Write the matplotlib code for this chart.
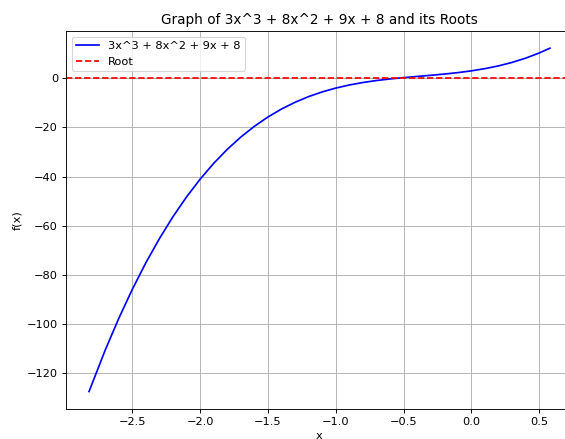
import matplotlib
matplotlib.use("Agg")
import matplotlib.pyplot as plt

x_vals = [-2.82, -2.7, -2.6, -2.5, -2.4, -2.3, -2.2, -2.1, -2.0, -1.9, -1.8, -1.7,
          -1.6, -1.5, -1.4, -1.3, -1.2, -1.1, -1.0, -0.9, -0.8, -0.7, -0.6, -0.5,
          -0.4, -0.3, -0.2, -0.1, 0.0, 0.1, 0.2, 0.3, 0.4, 0.5, 0.58]
y_vals = [-127.40, -110.45, -97.57, -85.75, -74.95, -65.13, -56.22, -48.20, -41.0,
          -34.58, -28.90, -23.89, -19.53, -15.75, -12.51, -9.77, -7.46, -5.56, -4.0,
          -2.74, -1.74, -0.93, -0.29, 0.25, 0.73, 1.19, 1.70, 2.28, 3.0, 3.90, 5.02,
          6.43, 8.15, 10.25, 12.23]
root_level = 0

title = "Graph of 3x^3 + 8x^2 + 9x + 8 and its Roots"
curve_label = "3x^3 + 8x^2 + 9x + 8"
root_label = "Root"

dpi = 81.75
fig = plt.figure(figsize=(565 / dpi, 439 / dpi), dpi=dpi)
W, H = 565, 439
left, right, top, bottom = 66, 573, 31, 408.7
ax = fig.add_axes([left / W, (H - bottom) / H, (right - left) / W, (bottom - top) / H])

ax.plot(x_vals, y_vals, color="b", label=curve_label)
ax.axhline(root_level, color="r", linestyle="--", label=root_label)
ax.set_title(title)
ax.set_xlabel("x")
ax.set_ylabel("f(x)")
ax.legend(loc="upper left")
ax.grid(True)

fig.savefig("out.png", dpi=dpi)
